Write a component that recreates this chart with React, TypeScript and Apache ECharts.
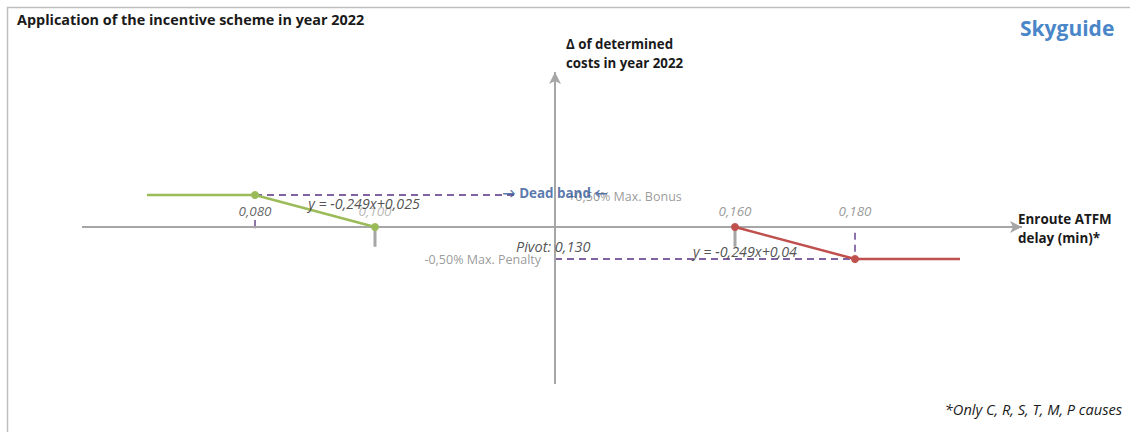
import React, { useEffect, useRef } from "react";
import * as echarts from "echarts";

// ---- data ----
const pivot = 0.13;
const maxBonus = 0.005;
const maxPenalty = -0.005;
const bonusX = [0.062, 0.08, 0.1];
const bonusY = [0.005, 0.005, 0];
const penaltyX = [0.16, 0.18, 0.1975];
const penaltyY = [0, -0.005, -0.005];
const tickValues = [0.08, 0.1, 0.16, 0.18];
const tickLabels = ["0,080", "0,100", "0,160", "0,180"];
const tickColors = ["#404040", "#a6a6a6", "#7f7f7f", "#7f7f7f"];
const grayTicks = [0.1, 0.16];
const deadBandEnd = 0.1235;
const eqBonus = "y = -0,249x+0,025";
const eqPenalty = "y = -0,249x+0,04";

const X_MIN = 0.130 - 473 / 6000;
const X_MAX = 0.130 + 467 / 6000;
const Y_MIN = -157 / 6400;
const Y_MAX = 155 / 6400;

const FONT = "'Open Sans', Lato, sans-serif";

export default function App() {
  const ref = useRef<HTMLDivElement>(null);
  useEffect(() => {
    if (!ref.current) return;
    const chart = echarts.init(ref.current, undefined, { renderer: "svg" });
    const zip = (xs: number[], ys: number[]) => xs.map((x, i) => [x, ys[i]]);
    const lbl = (x: number, y: number, text: string, style: any) => ({
      value: [x, y],
      label: { formatter: text, ...style },
    });
    const purple = "#8064a2";
    const option: any = {
      animation: false,
      grid: { left: 82, right: 108, top: 72, bottom: 48 },
      xAxis: { type: "value", min: X_MIN, max: X_MAX, show: false },
      yAxis: { type: "value", min: Y_MIN, max: Y_MAX, show: false },
      graphic: [
        {
          type: "rect",
          shape: { x: 7.5, y: 7.5, width: 1200, height: 600 },
          style: { fill: "none", stroke: "#bfbfbf", lineWidth: 1.5 },
          silent: true,
        },
        {
          type: "text", left: 17, top: 12,
          style: { text: "Application of the incentive scheme in year 2022", font: `bold 14.4px ${FONT}`, fill: "#1a1a1a" },
        },
        {
          type: "text", left: 1020, top: 17,
          style: { text: "Skyguide", font: `bold 21px ${FONT}`, fill: "#4a86c8" },
        },
        {
          type: "text", left: 566, top: 34,
          style: { text: "Δ of determined\ncosts in year 2022", font: `bold 13.3px ${FONT}`, fill: "#1a1a1a", lineHeight: 19 },
        },
        {
          type: "text", left: 1018, top: 209,
          style: { text: "Enroute ATFM\ndelay (min)*", font: `bold 13.4px ${FONT}`, fill: "#1a1a1a", lineHeight: 19 },
        },
        {
          type: "text", right: 8, top: 401,
          style: { text: "*Only C, R, S, T, M, P causes", font: `italic 14.6px ${FONT}`, fill: "#1a1a1a" },
        },
      ],
      series: [
        {
          type: "line", data: [], silent: true,
          markLine: {
            silent: true, animation: false,
            symbol: ["none", "arrow"], symbolSize: [9, 12],
            label: { show: false },
            lineStyle: { color: "#a6a6a6", width: 2, type: "solid" },
            data: [
              [{ coord: [X_MIN, 0] }, { coord: [X_MAX, 0] }],
              [{ coord: [pivot, Y_MIN] }, { coord: [pivot, Y_MAX] }],
            ],
          },
        },
        ...grayTicks.map((x) => ({
          type: "line", silent: true, symbol: "none",
          lineStyle: { color: "#a6a6a6", width: 3 },
          data: [[x, 0], [x, -0.0031]],
        })),
        {
          type: "line", silent: true, symbol: "none",
          lineStyle: { color: purple, width: 1.8, type: [7, 5] },
          data: [[bonusX[1], maxBonus], [deadBandEnd, maxBonus]],
        },
        {
          type: "line", silent: true, symbol: "none",
          lineStyle: { color: purple, width: 1.8, type: [7, 5] },
          data: [[pivot, maxPenalty], [penaltyX[1], maxPenalty]],
        },
        {
          type: "line", silent: true, symbol: "none",
          lineStyle: { color: purple, width: 1.8, type: [7, 5] },
          data: [[penaltyX[1], -0.0009], [penaltyX[1], maxPenalty]],
        },
        {
          type: "line", silent: true, symbol: "none",
          lineStyle: { color: purple, width: 1.8 },
          data: [[bonusX[1], 0.0011], [bonusX[1], -0.0002]],
        },
        {
          type: "line", silent: true, z: 5,
          lineStyle: { color: "#9bbb59", width: 2.5 },
          itemStyle: { color: "#9bbb59" },
          symbol: "circle",
          symbolSize: (_v: any, p: any) => (p.dataIndex === 0 ? 0 : 8),
          data: zip(bonusX, bonusY),
        },
        {
          type: "line", silent: true, z: 5,
          lineStyle: { color: "#c0504d", width: 2.5 },
          itemStyle: { color: "#c0504d" },
          symbol: "circle",
          symbolSize: (_v: any, p: any) => (p.dataIndex === 2 ? 0 : 8),
          data: zip(penaltyX, penaltyY),
        },
        {
          type: "scatter", silent: true, symbolSize: 0, z: 10,
          label: {
            show: true, position: [0, 0], align: "center", verticalAlign: "middle",
            fontFamily: FONT, fontStyle: "italic", fontSize: 13.5,
          },
          data: tickValues.map((v, i) =>
            lbl(v, 0.0025, tickLabels[i], { color: tickColors[i] })
          ),
        },
        {
          type: "scatter", silent: true, symbolSize: 0, z: 11,
          label: {
            show: true, position: [0, 0], align: "center", verticalAlign: "middle",
            fontFamily: FONT,
          },
          data: [
            lbl(0.09817, 0.00375, eqBonus, { fontStyle: "italic", fontSize: 14.3, color: "#262626" }),
            lbl(0.16167, -0.00375, eqPenalty, { fontStyle: "italic", fontSize: 14.3, color: "#262626" }),
            lbl(0.1297, -0.00297, "Pivot: 0,130", { fontStyle: "italic", fontSize: 14.5, color: "#262626" }),
            lbl(0.12767, maxPenalty, "-0,50% Max. Penalty", { align: "right", fontSize: 12.5, color: "#7f7f7f" }),
            lbl(0.1322, 0.00484, "+0,50% Max. Bonus", { align: "left", fontSize: 12.5, color: "#7f7f7f" }),
          ],
        },
        {
          type: "scatter", silent: true, symbolSize: 0, z: 12,
          label: {
            show: true, position: [0, 0], align: "center", verticalAlign: "middle",
            fontFamily: FONT, fontWeight: "bold", fontSize: 13.4, color: "#2f5597",
          },
          data: [lbl(pivot, 0.0053, "→ Dead band ←", {})],
        },
      ],
    };
    chart.setOption(option);
    return () => chart.dispose();
  }, []);
  return (
    <div
      ref={ref}
      style={{ position: "fixed", left: 0, top: 0, width: 1130, height: 432, background: "#fff" }}
    />
  );
}
